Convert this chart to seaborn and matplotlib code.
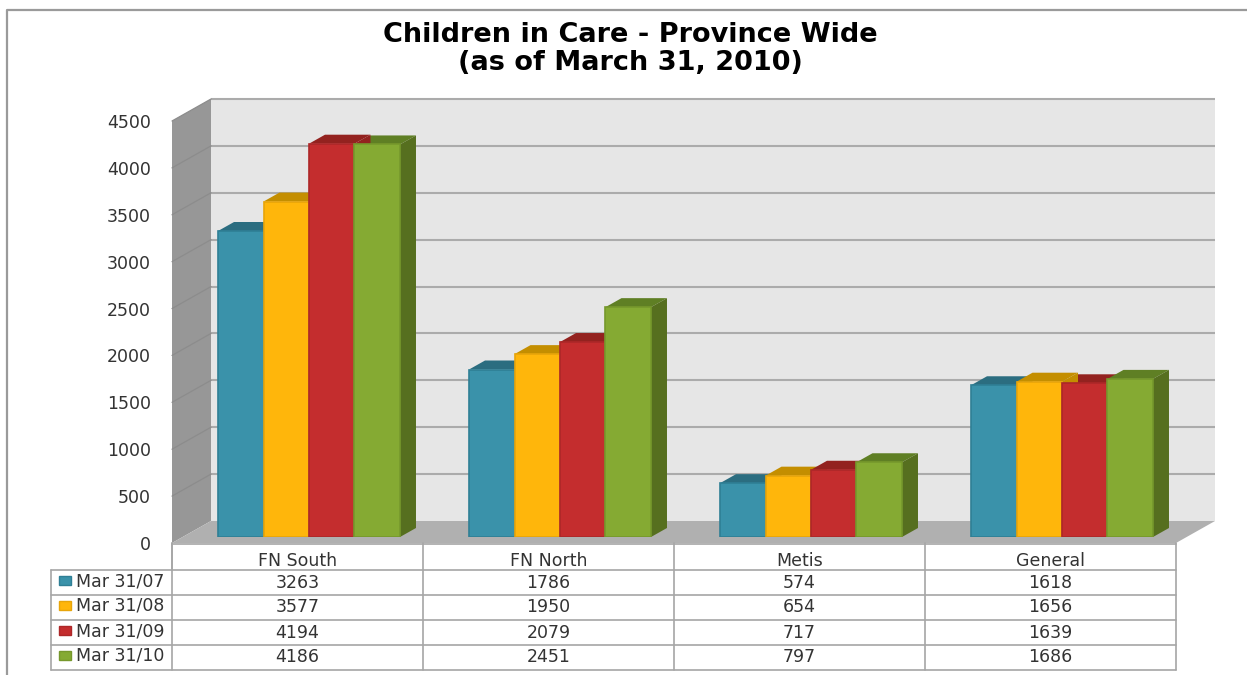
import matplotlib
matplotlib.use("Agg")
import matplotlib.pyplot as plt
import seaborn as sns
import pandas as pd
from matplotlib.patches import Polygon, Rectangle

categories = ["FN South", "FN North", "Metis", "General"]
series_names = ["Mar 31/07", "Mar 31/08", "Mar 31/09", "Mar 31/10"]
mar07 = [3263, 1786, 574, 1618]
mar08 = [3577, 1950, 654, 1656]
mar09 = [4194, 2079, 717, 1639]
mar10 = [4186, 2451, 797, 1686]
yticks = [0, 500, 1000, 1500, 2000, 2500, 3000, 3500, 4000, 4500]
title = "Children in Care - Province Wide\n(as of March 31, 2010)"

front_colors = ["#3a92aa", "#ffb60b", "#c42d2e", "#85aa33"]
edge_colors = ["#2f7f95", "#e8a50a", "#ad2728", "#76982c"]
top_colors = ["#2b6d80", "#c48e00", "#93221f", "#5f7f24"]
side_colors = ["#2b6d80", "#c48e00", "#93221f", "#566f1f"]

W, H = 1247, 675
sns.set_theme(style="white")
plt.rcParams["font.family"] = ["DejaVu Sans"]
TXT = "#333333"
FS = 12.5

fig = plt.figure(figsize=(W / 100, H / 100), dpi=100, facecolor="white")


def axes_px(x0, y0, x1, y1, **kw):
    return fig.add_axes([x0 / W, 1 - y1 / H, (x1 - x0) / W, (y1 - y0) / H], **kw)


# overlay in pixel coordinates: frame, 3D walls and data table
bg = axes_px(0, 0, W, H, zorder=0)
bg.set_xlim(0, W)
bg.set_ylim(H, 0)
bg.axis("off")

FX0, FX1, FY0, FY1 = 172, 1176, 543, 121   # front plane (value 0 at FY0, 4500 at FY1)
DX, DY = 39, 22                            # wall depth
scale = (FY0 - FY1) / 4500

bg.plot([7, 7, W], [H, 10, 10], color="#9a9a9a", lw=1.6)
bg.add_patch(Polygon([(FX0 + DX, FY1 - DY), (FX1 + DX, FY1 - DY), (FX1 + DX, FY0 - DY), (FX0 + DX, FY0 - DY)],
                     fc="#e6e6e6", ec="none"))
bg.add_patch(Polygon([(FX0, FY1), (FX0 + DX, FY1 - DY), (FX0 + DX, FY0 - DY), (FX0, FY0)],
                     fc="#979797", ec="none"))
bg.add_patch(Polygon([(FX0, FY0), (FX0 + DX, FY0 - DY), (FX1 + DX, FY0 - DY), (FX1, FY0)],
                     fc="#b0b0b0", ec="none"))
for v in yticks[1:]:
    yy = FY0 - v * scale
    bg.plot([FX0 + DX, FX1 + DX], [yy - DY, yy - DY], color="#ababab", lw=1.5, solid_capstyle="butt")
    bg.plot([FX0, FX0 + DX], [yy, yy - DY], color="#8c8c8c", lw=0.9)

# y axis labels on the front plane
ax_wall = axes_px(FX0, FY1, FX1, FY0, zorder=1)
ax_wall.patch.set_alpha(0)
ax_wall.set_ylim(0, 4500)
ax_wall.set_xticks([])
ax_wall.set_yticks(yticks)
ax_wall.set_yticklabels([str(v) for v in yticks], fontsize=FS, color=TXT)
ax_wall.tick_params(axis="y", length=0, pad=15)
sns.despine(ax=ax_wall, left=True, bottom=True)

# bars: front faces through seaborn, plane set slightly inside the floor
ax = axes_px(183.5, 115, 1187.5, 537, zorder=2)
df = pd.DataFrame({
    "category": categories * 4,
    "series": [s for s in series_names for _ in categories],
    "value": mar07 + mar08 + mar09 + mar10,
})
sns.barplot(data=df, x="category", y="value", hue="series", hue_order=series_names, order=categories,
            palette=front_colors, width=0.725, gap=0, saturation=1, legend=False, ax=ax, zorder=5)
ax.set_xlim(-0.5, 3.5)
ax.set_ylim(0, 4500)
ax.axis("off")

bar_dx = 16 / 251            # bar depth in category units
bar_dy = 9 / (422 / 4500)    # bar depth in value units
for s, cont in enumerate(ax.containers):
    for b in cont:
        b.set_edgecolor(edge_colors[s])
        b.set_linewidth(1.2)
        b.set_zorder(50)
        x0, x1, h = b.get_x(), b.get_x() + b.get_width(), b.get_height()
        z = 5 + h / 1000
        ax.add_patch(Polygon([(x0, h), (x0 + bar_dx, h + bar_dy), (x1 + bar_dx, h + bar_dy), (x1, h)],
                             fc=top_colors[s], ec="none", zorder=z, clip_on=False))
        ax.add_patch(Polygon([(x1, 0), (x1 + bar_dx, bar_dy), (x1 + bar_dx, h + bar_dy), (x1, h)],
                             fc=side_colors[s], ec="none", zorder=z, clip_on=False))

# data table
tb = axes_px(0, 0, W, H, zorder=3)
tb.set_xlim(0, W)
tb.set_ylim(H, 0)
tb.axis("off")
col_x = [172, 423, 674, 925, 1176]
row_y = [570, 595, 620, 645, 670]
LINE = "#a6a6a6"
tb.plot([172, 1176], [543.5, 543.5], color=LINE, lw=1.2)
tb.plot([172, 172], [543, 570], color=LINE, lw=1.2)
for x in col_x:
    tb.plot([x, x], [543, 670], color=LINE, lw=1.2)
tb.plot([51, 51], [570, 670], color=LINE, lw=1.2)
for y in row_y:
    tb.plot([51, 1176], [y, y], color=LINE, lw=1.2)
for i, c in enumerate(categories):
    tb.text((col_x[i] + col_x[i + 1]) / 2, 561, c, ha="center", va="center", fontsize=FS, color=TXT)
for r, (name, vals) in enumerate(zip(series_names, [mar07, mar08, mar09, mar10])):
    yc = (row_y[r] + row_y[r + 1]) / 2
    tb.add_patch(Rectangle((59, yc - 7), 12, 9, fc=front_colors[r], ec=edge_colors[r], lw=1))
    tb.text(76, yc - 1.5, name, ha="left", va="center", fontsize=FS, color=TXT)
    for i, v in enumerate(vals):
        tb.text((col_x[i] + col_x[i + 1]) / 2, yc, str(v), ha="center", va="center", fontsize=FS, color=TXT)

tb.text(630, 48.5, title, ha="center", va="center", fontsize=19.5, fontweight="bold",
        color="black", linespacing=1.1)

fig.savefig("out.png", dpi=100, facecolor="white")
